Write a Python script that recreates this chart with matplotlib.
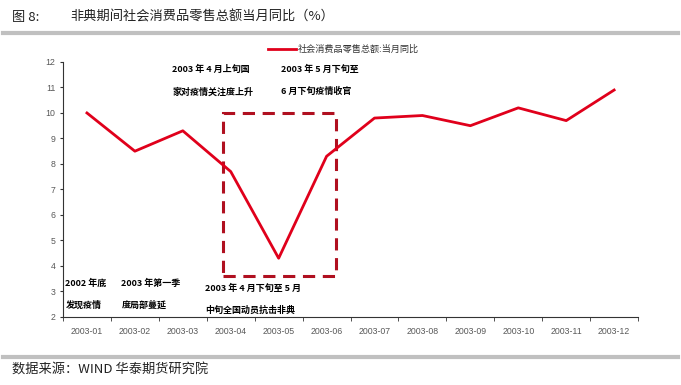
import matplotlib
matplotlib.use("Agg")
import matplotlib.pyplot as plt
from matplotlib.patches import Rectangle
from matplotlib.lines import Line2D

plt.rcParams["font.family"] = ["Noto Sans CJK SC", "DejaVu Sans"]

# ── Data ──────────────────────────────────────────────────────────────────────
months = ["2003-01", "2003-02", "2003-03", "2003-04", "2003-05", "2003-06",
          "2003-07", "2003-08", "2003-09", "2003-10", "2003-11", "2003-12"]
retail_yoy = [10.0, 8.5, 9.3, 7.7, 4.3, 8.3, 9.8, 9.9, 9.5, 10.2, 9.7, 10.9]
series_name = "社会消费品零售总额:当月同比"

# annotation texts: (x in category units, y in data units, two lines)
notes = [
    (-0.45, 3.32, "2002 年底", "发现疫情"),
    (0.72, 3.32, "2003 年第一季", "度局部蔓延"),
    (2.47, 3.12, "2003 年 4 月下旬至 5 月", "中旬全国动员抗击非典"),
    (1.78, 11.7, "2003 年 4 月上旬国", "家对疫情关注度上升"),
    (4.05, 11.7, "2003 年 5 月下旬至", "6 月下旬疫情收官"),
]
box_x = (2.83, 5.20)
box_y = (3.6, 10.0)

RED = "#e0001b"
DARK_RED = "#b01020"
GREY = "#595959"

# ── Figure ────────────────────────────────────────────────────────────────────
fig = plt.figure(figsize=(6.81, 3.85), dpi=100)
ax = fig.add_axes([0.0925, 0.177, 0.8445, 0.662])

x = list(range(len(months)))
ax.plot(x, retail_yoy, color=RED, linewidth=2.0, zorder=4)

ax.add_patch(Rectangle((box_x[0], box_y[0]), box_x[1] - box_x[0], box_y[1] - box_y[0],
                       fill=False, edgecolor=DARK_RED, linewidth=2.2,
                       linestyle=(0, (4, 2.5)), zorder=3))

for nx, ny, l1, l2 in notes:
    ax.text(nx, ny, l1, fontsize=6.5, fontweight="bold", ha="left", va="center")
    ax.text(nx, ny - 0.86, l2, fontsize=6.5, fontweight="bold", ha="left", va="center")

ax.set_xlim(-0.5, len(months) - 0.5)
ax.set_ylim(2, 12)
ax.set_yticks(range(2, 13))
ax.set_xticks(x)
ax.set_xticklabels(months)
ax.set_xticks([i - 0.5 for i in range(len(months) + 1)], minor=True)
ax.tick_params(axis="x", which="major", length=0, pad=7, labelsize=6.3, labelcolor=GREY)
ax.tick_params(axis="x", which="minor", length=3, direction="out", color="#333333")
ax.tick_params(axis="y", length=2.5, direction="out", labelsize=6.3, labelcolor=GREY,
               color="#333333", pad=3)
for lbl in ax.get_xticklabels() + ax.get_yticklabels():
    lbl.set_fontfamily(["Liberation Sans", "DejaVu Sans"])

for s in ["top", "right"]:
    ax.spines[s].set_visible(False)
ax.spines["left"].set_color("#333333")
ax.spines["bottom"].set_color("#333333")
ax.spines["left"].set_linewidth(0.8)
ax.spines["bottom"].set_linewidth(0.8)

# legend
fig.add_artist(Line2D([268 / 681, 296 / 681], [1 - 49 / 385] * 2, color=RED, linewidth=2.0))
fig.text(298 / 681, 1 - 49 / 385, series_name, fontsize=6.6, color="#333333", va="center", ha="left")

# header / footer
fig.text(12 / 681, 1 - 17 / 385, "图 8:", fontsize=9.5, color="#222222", va="center")
fig.text(70 / 681, 1 - 17 / 385, "非典期间社会消费品零售总额当月同比（%）", fontsize=9.5,
         color="#222222", va="center")
fig.add_artist(Line2D([3 / 681, 678 / 681], [1 - 33 / 385] * 2, color="#c0c0c0", linewidth=3))
fig.add_artist(Line2D([3 / 681, 678 / 681], [1 - 357 / 385] * 2, color="#c0c0c0", linewidth=3))
fig.text(12 / 681, 1 - 370 / 385, "数据来源：WIND 华泰期货研究院", fontsize=9.5,
         color="#222222", va="center")

fig.savefig("out.png", dpi=100)
